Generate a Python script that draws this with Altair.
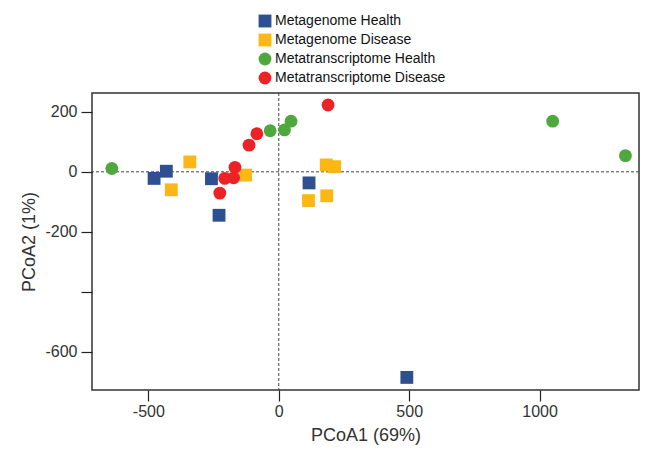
import altair as alt
import pandas as pd

groups = ["Metagenome Health", "Metagenome Disease", "Metatranscriptome Health", "Metatranscriptome Disease"]
colors = ["#2E5090", "#FDB714", "#4EA83E", "#EC2227"]
shapes = ["square", "square", "circle", "circle"]
sizes = [165, 165, 215, 215]

mg_health_x = [-478, -431, -258, -229, 116, 491]
mg_health_y = [-22, 2, -23, -145, -37, -686]
mg_disease_x = [-341, -412, -127, 114, 184, 182, 214]
mg_disease_y = [33, -60, -11, -96, -80, 23, 17]
mt_health_x = [-640, -33, 22, 47, 1050, 1329]
mt_health_y = [11, 137, 140, 169, 169, 54]
mt_disease_x = [-226, -207, -173, -168, -114, -84, 189]
mt_disease_y = [-71, -22, -20, 15, 89, 127, 223]

x_ticks = [-500, 0, 500, 1000]
y_ticks = [200, 0, -200, -400, -600]

rows = []
for g, xs, ys in zip(groups,
                     [mg_health_x, mg_disease_x, mt_health_x, mt_disease_x],
                     [mg_health_y, mg_disease_y, mt_health_y, mt_disease_y]):
    for a, b in zip(xs, ys):
        rows.append({"group": g, "x": a, "y": b})
df = pd.DataFrame(rows)

xscale = alt.Scale(domain=[-716, 1381], nice=False, zero=False)
yscale = alt.Scale(domain=[-728, 263], nice=False, zero=False)

x_axis = alt.Axis(values=x_ticks, grid=False, domain=False,
                  labelExpr="'' + datum.value",
                  tickSize=11, tickColor="#222222", tickWidth=1.2,
                  labelFontSize=16, labelColor="#333333", labelPadding=2,
                  titleFontSize=18, titleFontWeight="normal", titleColor="#333333",
                  titlePadding=7)
y_axis = alt.Axis(values=y_ticks, grid=False, domain=False,
                  labelExpr="datum.value == -400 ? '' : '' + datum.value",
                  tickSize=11, tickColor="#222222", tickWidth=1.2,
                  labelFontSize=16, labelColor="#333333", labelPadding=4,
                  titleFontSize=18, titleFontWeight="normal", titleColor="#333333",
                  titlePadding=6)
x_title = "PCoA1 (69%)"
y_title = "PCoA2 (1%)"

zero = pd.DataFrame({"v": [0]})
hrule = alt.Chart(zero).mark_rule(color="#444444", strokeDash=[3, 2], strokeWidth=1).encode(
    y=alt.Y("v:Q", scale=yscale, axis=y_axis, title=y_title))
vrule = alt.Chart(zero).mark_rule(color="#444444", strokeDash=[3, 2], strokeWidth=1).encode(
    x=alt.X("v:Q", scale=xscale, axis=x_axis, title=x_title))

points = alt.Chart(df).mark_point(filled=True, opacity=1, strokeWidth=0).encode(
    x=alt.X("x:Q", scale=xscale, title=x_title, axis=x_axis),
    y=alt.Y("y:Q", scale=yscale, title=y_title, axis=y_axis),
    color=alt.Color("group:N", scale=alt.Scale(domain=groups, range=colors),
                    legend=alt.Legend(title=None, orient="none", legendX=166, legendY=-79,
                                      symbolSize=190, labelFontSize=14, labelColor="#111111",
                                      rowPadding=5, labelOffset=3, symbolStrokeWidth=0,
                                      symbolOpacity=1, labelLimit=0)),
    shape=alt.Shape("group:N", scale=alt.Scale(domain=groups, range=shapes)),
    size=alt.Size("group:N", scale=alt.Scale(domain=groups, range=sizes), legend=None),
)

chart = alt.layer(hrule, vrule, points).properties(
    width=547, height=297,
    autosize=alt.AutoSizeParams(type="none"),
    padding={"left": 84, "top": 85, "right": 2, "bottom": 57},
).configure(font="Liberation Sans").configure_view(stroke="#333333", strokeWidth=1.5)

chart.save("out.html", embed_options={"renderer": "svg", "actions": False})
